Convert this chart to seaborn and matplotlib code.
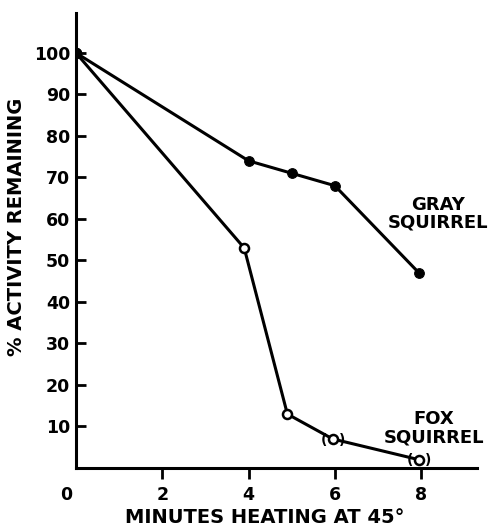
import numpy as np
import pandas as pd
import seaborn as sns
import matplotlib.pyplot as plt
from matplotlib.transforms import ScaledTranslation

# values
gray_min = [0, 4.0, 5.0, 6.0, 7.95]
gray_act = [100, 74, 71, 68, 47]
fox_min = [0, 3.9, 4.9, 5.95, 7.95]
fox_act = [100, 53, 13, 7, 2]
fox_bracketed = [False, False, False, True, True]  # points drawn as "(o)"

x_ticks = [0, 2, 4, 6, 8]
y_ticks = [10, 20, 30, 40, 50, 60, 70, 80, 90, 100]

sns.set_theme(style="white")
plt.rcParams["font.family"] = ["DejaVu Sans"]
plt.rcParams["font.weight"] = "bold"
plt.rcParams["text.color"] = "black"
plt.rcParams["axes.labelcolor"] = "black"
plt.rcParams["xtick.color"] = "black"
plt.rcParams["ytick.color"] = "black"

gray = pd.DataFrame({"minutes": gray_min, "activity": gray_act})
fox = pd.DataFrame({"minutes": fox_min, "activity": fox_act, "br": fox_bracketed})

fig = plt.figure(figsize=(4.93, 5.29), dpi=100)
ax = fig.add_axes([0.154, 0.1153, 0.814, 0.8601])

sns.lineplot(data=gray, x="minutes", y="activity", ax=ax, sort=False,
             color="black", lw=2.2, marker="o", markersize=7,
             markerfacecolor="black", markeredgecolor="black")
sns.lineplot(data=fox, x="minutes", y="activity", ax=ax, sort=False,
             color="black", lw=2.2, marker="o", markersize=6.5,
             markerfacecolor="white", markeredgecolor="black", markeredgewidth=1.8)
# the first fox point sits under the gray one
ax.plot(fox_min[0], fox_act[0], "o", color="black", markersize=7, zorder=5)

for _, r in fox[fox["br"]].iterrows():
    for s, dx in (("(", -6.5), (")", 6.5)):
        ax.annotate(s, (r["minutes"], r["activity"]), xytext=(dx, -0.5),
                    textcoords="offset points", ha="center", va="center",
                    fontsize=10, fontweight="bold", color="black")

ax.text(8.4, 61.3, "GRAY\nSQUIRREL", ha="center", va="center",
        fontsize=13, fontweight="bold", linespacing=1.0)
ax.text(8.3, 9.6, "FOX\nSQUIRREL", ha="center", va="center",
        fontsize=13, fontweight="bold", linespacing=1.0)

ax.set_xlim(0, 9.3)
ax.set_ylim(0, 109.6)
ax.set_xticks(x_ticks)
ax.set_yticks(y_ticks)
ax.set_xticklabels([str(t) for t in x_ticks], fontsize=12.5, fontweight="bold")
ax.set_yticklabels([str(t) for t in y_ticks], fontsize=12.5, fontweight="bold")
ax.tick_params(axis="x", direction="out", length=8, width=2, pad=5, bottom=True)
ax.tick_params(axis="y", direction="in", length=7, width=2, pad=4, left=True)
# "0" sits left of the origin, without a tick mark
ax.xaxis.get_major_ticks()[0].tick1line.set_visible(False)
lbl0 = ax.get_xticklabels()[0]
lbl0.set_transform(lbl0.get_transform() + ScaledTranslation(-0.1, 0, fig.dpi_scale_trans))

ax.set_xlabel("MINUTES HEATING AT 45°", fontsize=14, fontweight="bold")
ax.set_ylabel("% ACTIVITY REMAINING", fontsize=14, fontweight="bold")
ax.xaxis.set_label_coords(0.47, -0.088)
ax.yaxis.set_label_coords(-0.125, 0.53)

sns.despine(ax=ax)
for sp in ("left", "bottom"):
    ax.spines[sp].set_linewidth(2.2)
    ax.spines[sp].set_color("black")

fig.savefig("out.png", dpi=100)
